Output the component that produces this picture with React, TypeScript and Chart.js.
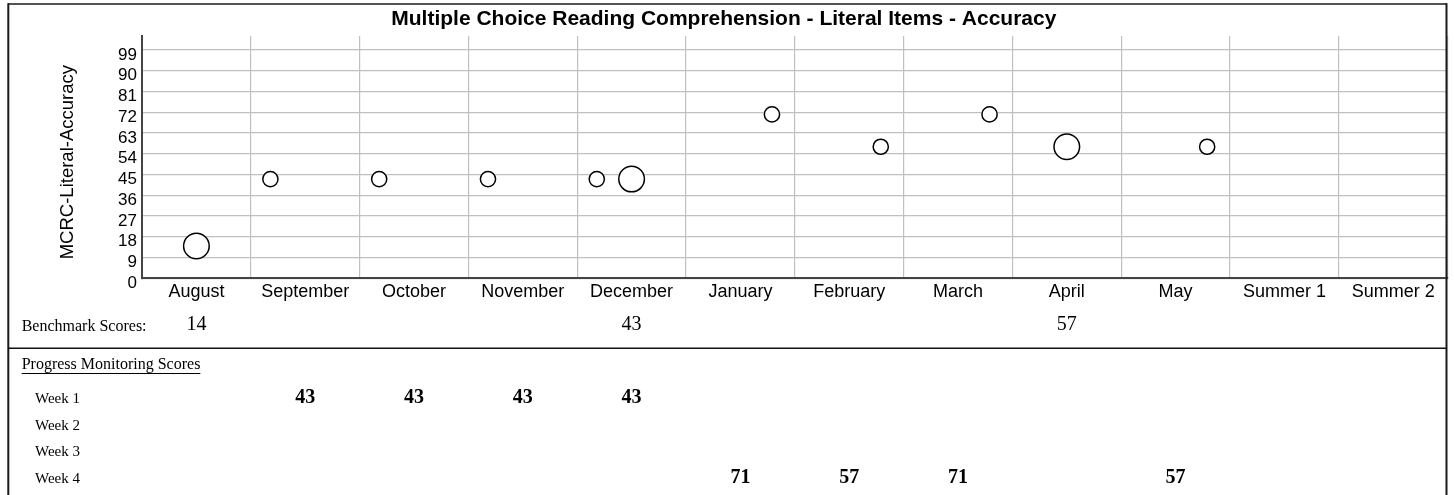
import React, { useEffect, useRef } from 'react';
import { Chart, registerables } from 'chart.js';

Chart.register(...registerables);

// ---------- data ----------
const TITLE = 'Multiple Choice Reading Comprehension - Literal Items - Accuracy';
const Y_TITLE = 'MCRC-Literal-Accuracy';
const MONTHS = ['August', 'September', 'October', 'November', 'December', 'January', 'February', 'March', 'April', 'May', 'Summer 1', 'Summer 2'];
const Y_TICKS = [0, 9, 18, 27, 36, 45, 54, 63, 72, 81, 90, 99];
const Y_MAX = 105;

const BENCHMARK_SCORES: (number | null)[] = [14, null, null, null, 43, null, null, null, 57, null, null, null];
const WEEK_1: (number | null)[] = [null, 43, 43, 43, 43, null, null, null, null, null, null, null];
const WEEK_2: (number | null)[] = [null, null, null, null, null, null, null, null, null, null, null, null];
const WEEK_3: (number | null)[] = [null, null, null, null, null, null, null, null, null, null, null, null];
const WEEK_4: (number | null)[] = [null, null, null, null, null, 71, 57, 71, null, 57, null, null];
const WEEK_LABELS = ['Week 1', 'Week 2', 'Week 3', 'Week 4'];
const WEEKS = [WEEK_1, WEEK_2, WEEK_3, WEEK_4];

// where inside a month column a week's / benchmark's point sits (fraction of column)
const WEEK_SLOTS = [0.18, 0.38, 0.58, 0.79];
const BENCHMARK_SLOT = 0.5;

const SANS = '"Liberation Sans", Arial, Helvetica, sans-serif';
const SERIF = '"Liberation Serif", "Times New Roman", Times, serif';

const W = 1454;
const H = 495;

const benchmarkPoints = BENCHMARK_SCORES
  .map((v, i) => (v == null ? null : { x: i + BENCHMARK_SLOT, y: v }))
  .filter((p) => p !== null) as { x: number; y: number }[];

const weekPoints = WEEKS.flatMap((arr, w) =>
  arr.map((v, i) => (v == null ? null : { x: i + WEEK_SLOTS[w], y: v }))
).filter((p) => p !== null) as { x: number; y: number }[];

const tablePlugin = {
  id: 'scoreTable',
  afterDraw(chart: any) {
    const ctx: CanvasRenderingContext2D = chart.ctx;
    const xs = chart.scales.x;
    const area = chart.chartArea;
    ctx.save();

    // y axis title
    ctx.save();
    ctx.translate(68, (area.top + area.bottom) / 2 + 5);
    ctx.rotate(-Math.PI / 2);
    ctx.fillStyle = '#000';
    ctx.textAlign = 'center';
    ctx.textBaseline = 'middle';
    ctx.font = `18.5px ${SANS}`;
    ctx.fillText(Y_TITLE, 0, 0);
    ctx.restore();

    // outer frame
    ctx.strokeStyle = '#1a1a1a';
    ctx.lineWidth = 1.5;
    ctx.beginPath();
    ctx.moveTo(8, 4);
    ctx.lineTo(1447, 4);
    ctx.stroke();
    ctx.lineWidth = 2;
    ctx.beginPath();
    ctx.moveTo(8.3, 3.3);
    ctx.lineTo(8.3, H);
    ctx.moveTo(1446.5, 3.3);
    ctx.lineTo(1446.5, H);
    ctx.stroke();

    // benchmark row
    ctx.fillStyle = '#000';
    ctx.textBaseline = 'middle';
    ctx.textAlign = 'left';
    ctx.font = `16px ${SERIF}`;
    ctx.fillText('Benchmark Scores:', 21.7, 326.5);
    ctx.textAlign = 'center';
    ctx.font = `20px ${SERIF}`;
    BENCHMARK_SCORES.forEach((v, i) => {
      if (v == null) return;
      ctx.fillText(String(v), xs.getPixelForValue(i + 0.5), 325);
    });

    // separator
    ctx.strokeStyle = '#111';
    ctx.lineWidth = 1.5;
    ctx.beginPath();
    ctx.moveTo(8, 348.3);
    ctx.lineTo(1446, 348.3);
    ctx.stroke();

    // progress monitoring heading
    ctx.textAlign = 'left';
    ctx.font = `16px ${SERIF}`;
    const head = 'Progress Monitoring Scores';
    ctx.fillText(head, 21.7, 365);
    const hw = ctx.measureText(head).width;
    ctx.lineWidth = 1;
    ctx.strokeStyle = '#000';
    ctx.beginPath();
    ctx.moveTo(21.7, 373.5);
    ctx.lineTo(21.7 + hw, 373.5);
    ctx.stroke();

    // week rows
    WEEKS.forEach((arr, w) => {
      const y = 399 + w * 26.7;
      ctx.textAlign = 'left';
      ctx.font = `15px ${SERIF}`;
      ctx.fillText(WEEK_LABELS[w], 35, y);
      ctx.textAlign = 'center';
      ctx.font = `bold 20px ${SERIF}`;
      arr.forEach((v, i) => {
        if (v == null) return;
        ctx.fillText(String(v), xs.getPixelForValue(i + 0.5), y - 1.5);
      });
    });

    ctx.restore();
  },
};

export default function App() {
  const ref = useRef<HTMLCanvasElement>(null);

  useEffect(() => {
    if (!ref.current) return;
    const chart = new Chart(ref.current, {
      type: 'scatter',
      data: {
        datasets: [
          {
            label: 'Benchmark',
            data: benchmarkPoints,
            pointRadius: 12.8,
            pointBorderWidth: 1.5,
            pointBorderColor: '#000',
            pointBackgroundColor: '#fff',
            pointStyle: 'circle',
            showLine: false,
            clip: false as any,
          },
          {
            label: 'Progress Monitoring',
            data: weekPoints,
            pointRadius: 7.6,
            pointBorderWidth: 1.5,
            pointBorderColor: '#000',
            pointBackgroundColor: '#fff',
            pointStyle: 'circle',
            showLine: false,
            clip: false as any,
          },
        ],
      },
      options: {
        responsive: false,
        maintainAspectRatio: false,
        animation: false,
        events: [],
        layout: { autoPadding: false, padding: { top: 0, left: 0, right: 6.4, bottom: 0 } },
        plugins: {
          legend: { display: false },
          tooltip: { enabled: false },
          title: {
            display: true,
            text: TITLE,
            color: '#000',
            font: { family: SANS, size: 21, weight: 'bold' },
            padding: { top: 7, bottom: 3.8 },
          },
        },
        scales: {
          x: {
            type: 'linear',
            min: 0,
            max: MONTHS.length,
            afterBuildTicks: (s: any) => {
              s.ticks = MONTHS.map((_, i) => ({ value: i })).concat([{ value: MONTHS.length }]);
            },
            afterFit: (s: any) => {
              s.height = H - 278.3;
              s.paddingLeft = 0;
              s.paddingRight = 0;
            },
            ticks: {
              autoSkip: false,
              maxRotation: 0,
              minRotation: 0,
              labelOffset: 54.4,
              padding: 3,
              color: '#000',
              font: { family: SANS, size: 18 },
              callback: (_v: any, i: number) => MONTHS[i] ?? '',
            },
            grid: { color: '#c0c0c0', lineWidth: 1.2, drawTicks: false },
            border: { color: '#444', width: 2 },
          },
          y: {
            type: 'linear',
            min: 0,
            max: Y_MAX,
            afterBuildTicks: (s: any) => {
              s.ticks = Y_TICKS.map((v) => ({ value: v }));
            },
            afterFit: (s: any) => {
              s.width = 142;
              s.paddingLeft = 0;
              s.paddingRight = 0;
            },
            ticks: {
              autoSkip: false,
              padding: 5,
              labelOffset: 5,
              color: '#000',
              font: { family: SANS, size: 17 },
            },
            grid: { color: '#c0c0c0', lineWidth: 1.2, drawTicks: false },
            border: { color: '#444', width: 2 },
            title: { display: false, text: Y_TITLE },
          },
        },
      },
      plugins: [tablePlugin],
    } as any);
    return () => chart.destroy();
  }, []);

  return (
    <div style={{ position: 'absolute', left: 0, top: 0, width: W, height: H, background: '#fff' }}>
      <canvas ref={ref} width={W} height={H} style={{ display: 'block', width: W, height: H }} />
    </div>
  );
}
